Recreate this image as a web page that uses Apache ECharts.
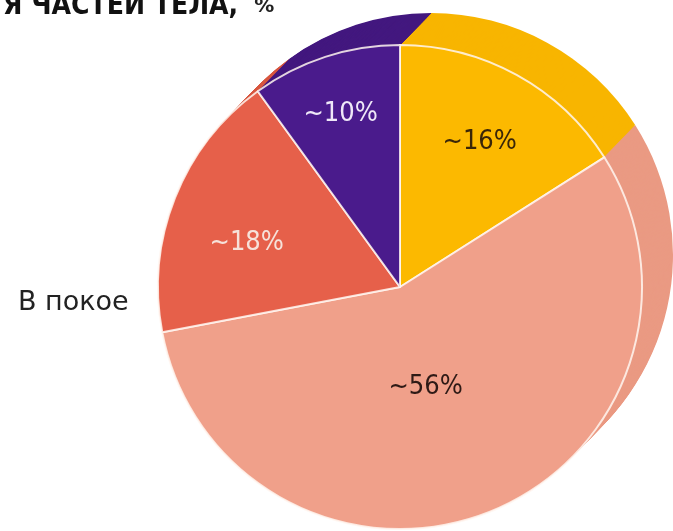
<!DOCTYPE html>
<html>
<head>
<meta charset="utf-8">
<script src="https://cdn.jsdelivr.net/npm/echarts@6/dist/echarts.min.js"></script>
<style>
  html, body { margin: 0; padding: 0; background: #fff; }
  #chart { width: 673px; height: 531px; }
</style>
</head>
<body>
<div id="chart"></div>
<script>
// values, clockwise from 12 o'clock
const sliceValues = [16, 56, 18, 10]
const sliceLabels = ['~16%', '~56%', '~18%', '~10%']
const titleText = 'Я ЧАСТЕЙ ТЕЛА,'
const titleUnit = '%'
const sideLabel = 'В покое'

const faceColors = ['#FCB900', '#F0A08A', '#E6604A', '#4A1B8C']
const sideColors = ['#F8B500', '#EA9A83', '#D8563F', '#43187F']
const labelColors = ['#3a2608', '#2e1a16', '#f6e2da', '#efe8f8']
const labelShift = [[20, -36], [-20, -15], [-38, 2], [-21, -55]]

const cx = 400
const cy = 287
const radius = 242
const depth = 32

const chart = echarts.init(document.getElementById('chart'))

const series = []

// extruded side: a stack of pies stepping towards the viewer
for (let k = depth; k >= 1; k--) {
  series.push({
    type: 'pie',
    silent: true,
    animation: false,
    startAngle: 90,
    clockwise: true,
    radius: radius,
    center: [cx + k * 31 / depth, cy - k],
    label: { show: false },
    labelLine: { show: false },
    z: 1,
    itemStyle: { borderWidth: 0 },
    data: sliceValues.map((v, i) => ({
      value: v,
      itemStyle: { color: sideColors[i] }
    }))
  })
}

// front face
series.push({
  type: 'pie',
  animation: false,
  startAngle: 90,
  clockwise: true,
  radius: radius,
  center: [cx, cy],
  z: 3,
  itemStyle: {
    borderColor: 'rgba(255,246,240,0.85)',
    borderWidth: 2
  },
  label: {
    show: true,
    position: 'inside',
    fontFamily: '"DejaVu Sans Condensed", "DejaVu Sans", sans-serif',
    fontSize: 27,
    formatter: p => sliceLabels[p.dataIndex]
  },
  labelLine: { show: false },
  labelLayout: p => ({ dx: labelShift[p.dataIndex][0], dy: labelShift[p.dataIndex][1] }),
  data: sliceValues.map((v, i) => ({
    value: v,
    itemStyle: { color: faceColors[i] },
    label: { color: labelColors[i] }
  }))
})

chart.setOption({
  backgroundColor: '#ffffff',
  title: {
    text: '{b|' + titleText + '}{s|}{u|' + titleUnit + '}',
    left: -2,
    top: -12,
    textStyle: {
      rich: {
        b: {
          fontFamily: '"Liberation Sans Narrow", "Arial Narrow", "DejaVu Sans Condensed", sans-serif',
          fontWeight: 'bold',
          fontSize: 28,
          color: '#111'
        },
        s: { width: 16 },
        u: {
          fontFamily: '"DejaVu Sans", sans-serif',
          fontSize: 20,
          color: '#222'
        }
      }
    }
  },
  graphic: [{
    type: 'text',
    left: 18,
    top: 289,
    style: {
      text: sideLabel,
      fontFamily: '"DejaVu Sans", sans-serif',
      fontSize: 27,
      fill: '#222'
    }
  }],
  series
})
</script>
</body>
</html>
